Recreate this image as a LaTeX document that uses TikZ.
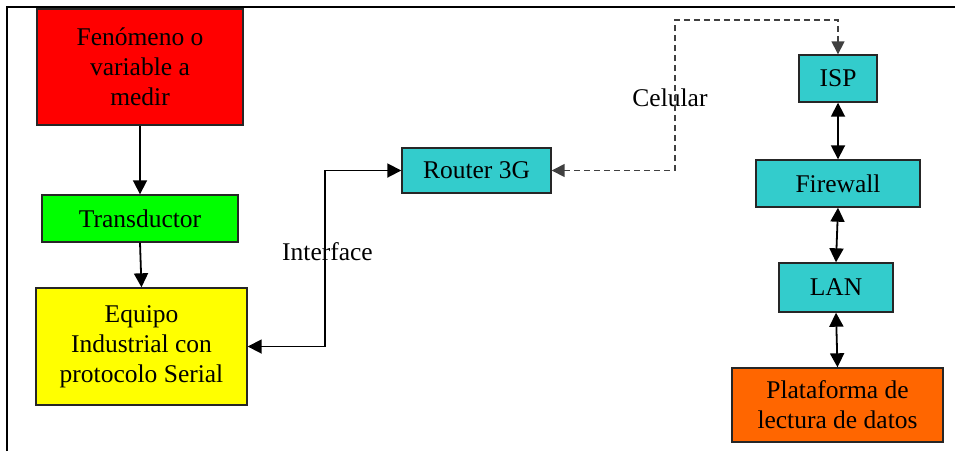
\documentclass[tikz,border=0pt]{standalone}
\usepackage{fontspec}
\setmainfont{Liberation Serif}
\usetikzlibrary{arrows.meta}
\definecolor{cred}{HTML}{FF0000}
\definecolor{cgreen}{HTML}{00FF00}
\definecolor{cyellow}{HTML}{FFFF00}
\definecolor{ccyan}{HTML}{33CCCC}
\definecolor{corange}{HTML}{FF6600}
\definecolor{dgray}{HTML}{404040}
\begin{document}
\begin{tikzpicture}[x=1pt,y=1pt,
  box/.style={draw=black!85,line width=1.4pt,inner sep=0pt,align=center,
    font=\fontsize{25.5}{30}\selectfont},
  lbl/.style={inner sep=0pt,font=\fontsize{25.5}{30}\selectfont},
  tip/.tip={Triangle[length=14pt,width=14pt]},
  arr/.style={line width=1.8pt,-tip},
  darr/.style={line width=1.8pt,tip-tip},
  dashline/.style={line width=1.5pt,dgray,dash pattern=on 6pt off 4pt,
    {Triangle[length=13pt,width=13pt]}-{Triangle[length=13pt,width=13pt]}}]
\useasboundingbox (0,0) rectangle (955,-451);
\draw[line width=1.5pt] (7,-451) -- (7,-7) -- (955,-7);
\node[box,fill=cred,minimum width=206pt,minimum height=116pt] (red) at (140,-67) {Fenómeno o\\variable a\\medir};
\node[box,fill=cgreen,minimum width=196pt,minimum height=47pt] (green) at (140,-218.5) {Transductor};
\node[box,fill=cyellow,minimum width=211pt,minimum height=117pt] (yel) at (141.5,-346.5) {Equipo\\Industrial con\\protocolo Serial};
\node[box,fill=ccyan,minimum width=149pt,minimum height=45pt] (router) at (476.5,-170.5) {Router 3G};
\node[box,fill=ccyan,minimum width=78pt,minimum height=47pt] (isp) at (838,-78.5) {ISP};
\node[box,fill=ccyan,minimum width=164pt,minimum height=47pt] (fw) at (838,-183.5) {Firewall};
\node[box,fill=ccyan,minimum width=114pt,minimum height=49pt] (lan) at (836,-287.5) {LAN};
\node[box,fill=corange,minimum width=211pt,minimum height=74pt] (plat) at (837.5,-405) {Plataforma de\\lectura de datos};
\node[lbl] (iface) at (327.5,-252) {Interface};
\node[lbl] (cel) at (670,-98) {Celular};
\coordinate (c1) at (675,-20);
\draw[arr] (red.south) -- (green.north);
\draw[arr] (green.south) -- (yel.north);
\draw[darr] (yel.east) -- ++(77,0) |- (router.west);
\draw[dashline] (router.east) -| (c1) -| (isp.north);
\draw[darr] (isp.south) -- (fw.north);
\draw[darr] (fw.south) -- (lan.north);
\draw[darr] (lan.south) -- (plat.north);
\end{tikzpicture}
\end{document}
